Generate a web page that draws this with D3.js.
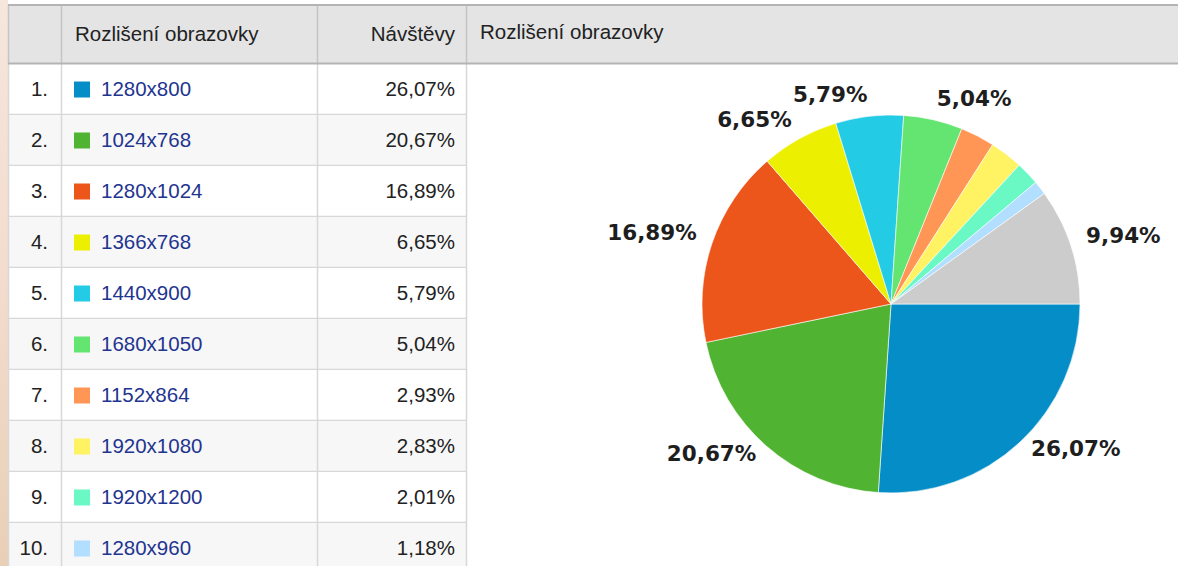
<!DOCTYPE html>
<html>
<head>
<meta charset="utf-8">
<script src="https://cdn.jsdelivr.net/npm/d3@7"></script>
<style>
html,body{margin:0;padding:0;background:#fff;}
svg{display:block;}
</style>
</head>
<body>
<svg id="chart" width="1178" height="566"></svg>
<script>
const categories = ["1280x800","1024x768","1280x1024","1366x768","1440x900","1680x1050","1152x864","1920x1080","1920x1200","1280x960"];
const values = [26.07,20.67,16.89,6.65,5.79,5.04,2.93,2.83,2.01,1.18];
const otherLabel = "Ostatní";
const otherValue = 9.94;
const colors = ["#058dc7","#50b432","#ed561b","#edef00","#24cbe5","#64e572","#ff9655","#fff263","#6af9c4","#b2deff"];
const otherColor = "#cccccc";
const headers = ["", "Rozlišení obrazovky", "Návštěvy", "Rozlišení obrazovky"];

const fmt = v => v.toFixed(2).replace(".", ",") + "%";

const svg = d3.select("#chart");
const W = 1178, H = 566;

// left beige strip
const defs = svg.append("defs");
const grad = defs.append("linearGradient").attr("id","strip").attr("x1",0).attr("y1",0).attr("x2",0).attr("y2",1);
grad.append("stop").attr("offset","0%").attr("stop-color","#f6e6dc");
grad.append("stop").attr("offset","50%").attr("stop-color","#f3dccd");
grad.append("stop").attr("offset","100%").attr("stop-color","#e9cfb6");
svg.append("rect").attr("x",0).attr("y",0).attr("width",8).attr("height",H).attr("fill","url(#strip)");

// table geometry
const tableLeft = 8;
const headerTop = 5, headerBottom = 64;
const colX = [tableLeft, 61, 317, 466, W];
const rowH = 51;

const rowScale = d3.scaleBand().domain(d3.range(categories.length)).range([headerBottom, headerBottom + rowH*categories.length]).padding(0);

// header background
svg.append("rect").attr("x",tableLeft).attr("y",headerTop).attr("width",W-tableLeft).attr("height",headerBottom-headerTop).attr("fill","#e4e4e4");

// rows
const rows = svg.append("g").selectAll("g").data(categories).join("g")
  .attr("transform",(d,i)=>`translate(0,${rowScale(i)})`);
rows.append("rect").attr("x",tableLeft).attr("width",colX[3]-tableLeft).attr("height",rowH)
  .attr("fill",(d,i)=> i%2===0 ? "#ffffff" : "#f7f7f7");
// row separators
rows.append("line").attr("x1",tableLeft).attr("x2",colX[3]).attr("y1",rowH-0.5).attr("y2",rowH-0.5)
  .attr("stroke","#d8d8d8").attr("stroke-width",1.5);

// vertical lines in body
[colX[0], colX[1], colX[2], colX[3]].forEach(x=>{
  svg.append("line").attr("x1",x+0.5).attr("x2",x+0.5).attr("y1",headerBottom).attr("y2",H)
    .attr("stroke","#d8d8d8").attr("stroke-width",1.5);
});
// vertical lines in header
[colX[0], colX[1], colX[2], colX[3]].forEach(x=>{
  svg.append("line").attr("x1",x+0.5).attr("x2",x+0.5).attr("y1",headerTop).attr("y2",headerBottom)
    .attr("stroke","#c4c4c4").attr("stroke-width",1.5);
});
// header borders
svg.append("line").attr("x1",tableLeft).attr("x2",W).attr("y1",headerTop).attr("y2",headerTop).attr("stroke","#b4b4b4").attr("stroke-width",2);
svg.append("line").attr("x1",tableLeft).attr("x2",W).attr("y1",headerBottom-0.5).attr("y2",headerBottom-0.5).attr("stroke","#b4b4b4").attr("stroke-width",2);

const tfont = "'Liberation Sans', Arial, sans-serif";
const tsize = 20.5;
// header text
svg.append("text").attr("x",75).attr("y",36).attr("dominant-baseline","middle")
  .attr("font-family",tfont).attr("font-size",tsize).attr("fill","#222").text(headers[1]);
svg.append("text").attr("x",455).attr("y",36).attr("dominant-baseline","middle").attr("text-anchor","end")
  .attr("font-family",tfont).attr("font-size",tsize).attr("fill","#222").text(headers[2]);
svg.append("text").attr("x",480).attr("y",34).attr("dominant-baseline","middle")
  .attr("font-family",tfont).attr("font-size",tsize).attr("fill","#222").text(headers[3]);

// row contents
rows.append("text").attr("x",48).attr("y",rowH/2+1).attr("dominant-baseline","middle").attr("text-anchor","end")
  .attr("font-family",tfont).attr("font-size",tsize).attr("fill","#222").text((d,i)=>(i+1)+".");
rows.append("rect").attr("x",74).attr("y",rowH/2-8).attr("width",16).attr("height",16)
  .attr("fill",(d,i)=>colors[i]);
rows.append("text").attr("x",101).attr("y",rowH/2+1).attr("dominant-baseline","middle")
  .attr("font-family",tfont).attr("font-size",tsize).attr("fill","#1f3590").text(d=>d);
rows.append("text").attr("x",455).attr("y",rowH/2+1).attr("dominant-baseline","middle").attr("text-anchor","end")
  .attr("font-family",tfont).attr("font-size",tsize).attr("fill","#222").text((d,i)=>fmt(values[i]));

// pie
const pieData = categories.map((c,i)=>({label:c, value:values[i], color:colors[i]}))
  .concat([{label:otherLabel, value:otherValue, color:otherColor}]);
const cx = 891, cy = 304, r = 189;
const pie = d3.pie().value(d=>d.value).sort(null).startAngle(Math.PI/2).endAngle(Math.PI/2 + 2*Math.PI);
const arc = d3.arc().innerRadius(0).outerRadius(r);
const g = svg.append("g").attr("transform",`translate(${cx},${cy})`);
const arcs = pie(pieData);
g.selectAll("path").data(arcs).join("path").attr("d",arc)
  .attr("fill",d=>d.data.color).attr("stroke","#ffffff").attr("stroke-width",0.6);

const labelR = r + 16;
g.selectAll("text").data(arcs.filter(d=>d.data.value>=5)).join("text")
  .each(function(d){
    const a = (d.startAngle + d.endAngle)/2;
    const x = Math.sin(a)*labelR, y = -Math.cos(a)*labelR - 4;
    d3.select(this).attr("x",x).attr("y",y)
      .attr("text-anchor", x>=0 ? "start" : "end");
  })
  .attr("dominant-baseline","middle")
  .attr("font-family","'DejaVu Sans', Verdana, sans-serif").attr("font-weight","bold")
  .attr("font-size",21.5).attr("fill","#1e1e1e")
  .text(d=>fmt(d.data.value));
</script>
</body>
</html>
